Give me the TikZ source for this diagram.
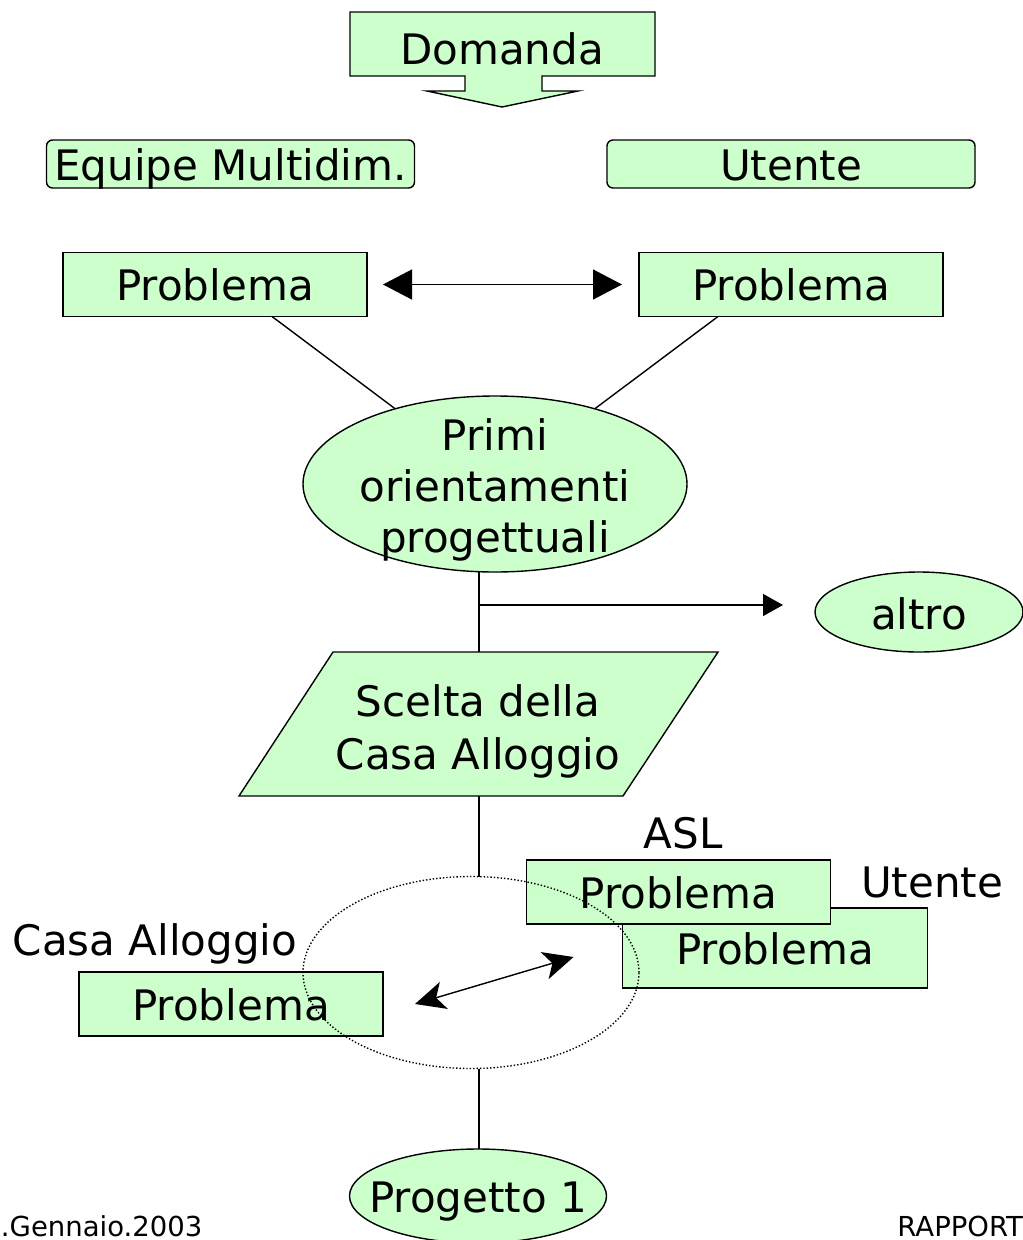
\documentclass[tikz,border=0pt]{standalone}
\usepackage{fontspec}
\setmainfont{DejaVu Sans}
\usetikzlibrary{shapes.geometric,arrows.meta,calc}
\definecolor{lg}{HTML}{CCFFCC}
\begin{document}
\begin{tikzpicture}[x=1pt,y=-1pt,
  every node/.style={font=\fontsize{42}{51}\selectfont, inner sep=0pt, outer sep=0pt},
  box/.style={draw, fill=lg, line width=1.4pt, minimum width=304pt, minimum height=64pt, text height=32pt, text depth=0pt},
  rbox/.style={box, rounded corners=6pt, minimum width=368pt, minimum height=48pt},
  ell/.style={ellipse, draw, fill=lg, line width=1.4pt},
  conn/.style={line width=1.4pt},
  bigtip/.style={{Triangle[length=29pt,width=30pt]}-{Triangle[length=29pt,width=30pt]}},
  sttip/.style={{Stealth[length=30pt,width=28pt,inset=8pt]}-{Stealth[length=30pt,width=28pt,inset=8pt]}},
  lbl/.style={anchor=base},
  foot/.style={anchor=base, font=\fontsize{27.5}{32}\selectfont}
]
\useasboundingbox (0,0) rectangle (1023,1240);

% Domanda block arrow
\path[draw, fill=lg, line width=1.4pt] (350,12) -- (655,12) -- (655,76) -- (542,76) -- (542,91) -- (578,91)
  -- (502,107) -- (427,91) -- (465,91) -- (465,76) -- (350,76) -- cycle;
\node[lbl] (dom) at (502,64) {Domanda};

% top boxes
\node[rbox] (eq) at (230.5,164) {Equipe Multidim.};
\node[rbox] (ut) at (791,164) {Utente};
\node[box] (pl) at (215,284.5) {Problema};
\node[box] (pr) at (791,284.5) {Problema};
\draw[conn, bigtip, shorten <=16pt, shorten >=17pt] (pl.east) -- (pr.west);

% Primi orientamenti
\node[ell, minimum width=384pt, minimum height=176pt] (primi) at (495,484) {};
\node[align=center] (primitxt) at (495,490) {Primi\\orientamenti\\progettuali};
\draw[conn] ([xshift=57pt]pl.south) -- (primi.143);
\draw[conn] ([xshift=-73pt]pr.south) -- (primi.37);

% altro
\node[ell, minimum width=208pt, minimum height=80pt] (altro) at (919,612) {};
\node[lbl] (altrotxt) at (919,629) {altro};

% parallelogram
\coordinate (ptop) at (479,652);
\coordinate (pbot) at (479,796);
\coordinate (br) at (479,605);
\path[draw, fill=lg, line width=1.4pt] (333,652) -- (718,652) -- (623,796) -- (239,796) -- cycle;
\node[align=center, font=\fontsize{42}{53}\selectfont] (scelta) at (478,731) {Scelta della\\Casa Alloggio};
\draw[conn] (primi.south -| ptop) -- (ptop);
\draw[conn, -{Triangle[length=20pt,width=22pt]}] (br) -- ([xshift=-32pt]altro.west |- br);

% lower boxes
\node[lbl] (asl) at (683,848) {ASL};
\node[lbl] (utl) at (932,897) {Utente};
\node[lbl] (casal) at (155,955) {Casa Alloggio};
\node[box, minimum width=305pt, minimum height=80pt] (ub) at (775,948) {Problema};
\node[box] (ab) at (678.5,892) {Problema};
\node[box] (cb) at (231,1004) {Problema};

% dotted ellipse
\node[ellipse, draw, dotted, line width=1.4pt, minimum width=336pt, minimum height=192pt] (circ) at (471,972.5) {};
\draw[conn] (pbot) -- (pbot |- circ.north);
\draw[conn, sttip] ([xshift=32pt]cb.east) -- ([xshift=-49pt,yshift=-9pt]ub.west);

% Progetto 1
\node[ell, minimum width=257pt, minimum height=94pt] (prog) at (478,1196) {};
\node[lbl] (progtxt) at (478,1212) {Progetto 1};
\draw[conn] (pbot |- circ.south) -- (pbot |- prog.north);

% footer
\node[foot, anchor=base west] (date) at (1,1236) {.Gennaio.2003};
\node[foot, anchor=base east] (rap) at (1023,1236) {RAPPORT};
\end{tikzpicture}
\end{document}
